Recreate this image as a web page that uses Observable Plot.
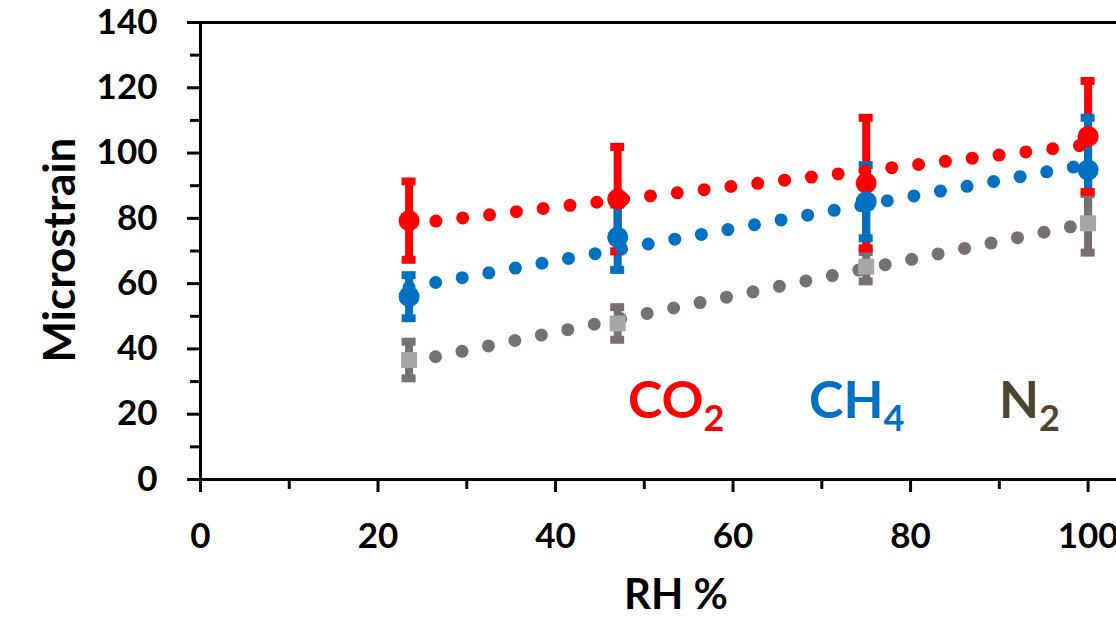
<!DOCTYPE html>
<html>
<head>
<meta charset="utf-8">
<script src="https://cdn.jsdelivr.net/npm/d3@7"></script>
<script src="https://cdn.jsdelivr.net/npm/@observablehq/plot@0.6"></script>
<style>
  html, body { margin: 0; padding: 0; background: #fff; }
  #wrap { position: relative; width: 1116px; height: 620px; overflow: hidden; font-family: Lato, sans-serif; }
  #wrap svg { position: absolute; left: 0; top: 0; }
  .ttl { position: absolute; font-weight: 700; color: #000; line-height: 1; white-space: nowrap; }
  .lg { position: absolute; font-family: Lato, sans-serif; font-weight: 700; font-size: 52px; line-height: 1; white-space: nowrap; }
  .lg .s { font-size: 36px; position: relative; top: 13px; }
</style>
</head>
<body>
<div id="wrap">
  <div class="ttl" id="ytitle" style="font-size:44px;left:58px;top:250px;transform:translate(-50%,-50%) rotate(-90deg);">Microstrain</div>
  <div class="ttl" id="xtitle" style="font-size:42px;left:676px;top:572px;transform:translateX(-50%);">RH %</div>
  <div class="lg" style="left:628px;top:372px;color:#ff0000;">CO<span class="s">2</span></div>
  <div class="lg" style="left:809px;top:372px;color:#0070c0;">CH<span class="s">4</span></div>
  <div class="lg" style="left:999px;top:372px;color:#4b4631;">N<span class="s">2</span></div>
</div>
<script>
// Data
const rh = [23.5, 47, 75, 100];
const co2 = [79.3, 85.9, 90.8, 105.1];
const co2Err = [12, 16, 20, 17];
const ch4 = [56.0, 74.2, 85.1, 94.8];
const ch4Err = [6.6, 10, 11.2, 16];
const n2 = [36.6, 47.8, 65.2, 78.5];
const n2Err = [5.6, 5, 4.5, 9];
const gases = ["CO2", "CH4", "N2"];
const gasColors = ["#ff0000", "#0070c0", "#767171"];
const xTicks = [0, 20, 40, 60, 80, 100];
const xMinor = [10, 30, 50, 70, 90];
const yTicks = [0, 20, 40, 60, 80, 100, 120, 140];
const yMinor = [10, 30, 50, 70, 90, 110, 130];

const series = {CO2: [co2, co2Err], CH4: [ch4, ch4Err], N2: [n2, n2Err]};
const rows = [];
for (const g of gases) {
  const [vals, errs] = series[g];
  rh.forEach((x, i) => rows.push({gas: g, rh: x, value: vals[i], err: errs[i]}));
}
const byGas = g => rows.filter(d => d.gas === g);

const chart = Plot.plot({
  width: 1116,
  height: 620,
  marginLeft: 200,
  marginRight: 0,
  marginTop: 22,
  marginBottom: 141,
  x: {domain: [0, 103.2]},
  y: {domain: [0, 140]},
  color: {domain: gases, range: gasColors},
  style: {fontFamily: "Lato, sans-serif", fontWeight: 700, background: "transparent", color: "#000", overflow: "visible"},
  marks: [
    // error bars
    Plot.ruleX(rows, {x: "rh", y1: d => d.value - d.err, y2: d => d.value + d.err, stroke: "gas", strokeWidth: 8}),
    Plot.ruleY(rows, {y: d => d.value + d.err, x1: "rh", x2: "rh", insetLeft: -7, insetRight: -7, stroke: "gas", strokeWidth: 8}),
    Plot.ruleY(rows, {y: d => d.value - d.err, x1: "rh", x2: "rh", insetLeft: -7, insetRight: -7, stroke: "gas", strokeWidth: 8}),
    // dotted linear trend lines
    ...gases.map((g, i) => Plot.linearRegressionY(byGas(g), {
      x: "rh", y: "value", stroke: gasColors[i], ci: 0,
      strokeWidth: 13, strokeDasharray: "0 27", strokeLinecap: "round"
    })),
    // markers
    Plot.dot(byGas("CO2"), {x: "rh", y: "value", r: 10.5, fill: "#ff0000"}),
    Plot.dot(byGas("CH4"), {x: "rh", y: "value", r: 10.5, fill: "#0070c0"}),
    Plot.dot(byGas("N2"), {x: "rh", y: "value", r: 9, symbol: "square", fill: "#a6a6a6"}),
    // axes
    Plot.ruleX([0], {strokeWidth: 3}),
    Plot.ruleY([0], {strokeWidth: 3}),
    Plot.ruleY([140], {strokeWidth: 3}),
    Plot.axisY({ticks: yTicks, tickSize: 13, tickPadding: 30, strokeWidth: 3, fontSize: 35, fontWeight: 700, label: null, tickFormat: d => d}),
    Plot.axisY({ticks: yMinor, tickSize: 10, strokeWidth: 3, label: null, tickFormat: () => ""}),
    Plot.axisX({ticks: xTicks, tickSize: 13, tickPadding: 31, strokeWidth: 3, fontSize: 35, fontWeight: 700, label: null, tickFormat: d => d}),
    Plot.axisX({ticks: xMinor, tickSize: 10, strokeWidth: 3, label: null, tickFormat: () => ""})
  ]
});
const wrap = document.getElementById("wrap");
wrap.insertBefore(chart, wrap.firstChild);
</script>
</body>
</html>
